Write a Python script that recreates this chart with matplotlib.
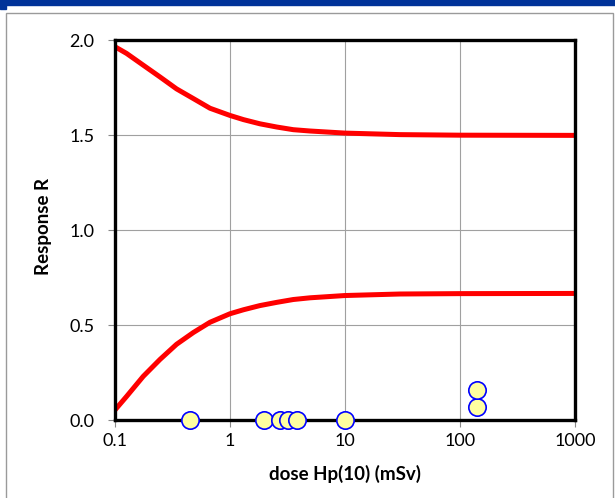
import matplotlib.pyplot as plt
from matplotlib.patches import Rectangle

# upper and lower limits of the response
limit_dose = [0.1, 0.126, 0.176, 0.246, 0.343, 0.48, 0.67, 1.0, 1.31, 1.82, 2.55,
              3.55, 4.97, 10, 30, 100, 1000]
upper_limit = [1.967, 1.932, 1.87, 1.808, 1.745, 1.694, 1.643, 1.605, 1.583, 1.561,
               1.544, 1.53, 1.523, 1.512, 1.504, 1.501, 1.5]
lower_limit = [0.053, 0.124, 0.23, 0.319, 0.399, 0.461, 0.515, 0.56, 0.581, 0.603,
               0.62, 0.635, 0.644, 0.656, 0.664, 0.666, 0.667]

# measured points
point_dose = [0.45, 1.98, 2.72, 3.19, 3.83, 10, 140, 140]
point_resp = [0.0, 0.0, 0.0, 0.0, 0.0, 0.0, 0.068, 0.158]

x_ticks = [0.1, 1, 10, 100, 1000]
x_labels = ['0.1', '1', '10', '100', '1000']
y_ticks = [0.0, 0.5, 1.0, 1.5, 2.0]

plt.rcParams['font.family'] = ['Lato', 'DejaVu Sans']

W, H = 615, 498
fig = plt.figure(figsize=(W / 100, H / 100), dpi=100)

# page decoration: blue bar on top, grey frame
fig.patches.append(Rectangle((0, 1 - 5 / H), 1, 5 / H, transform=fig.transFigure,
                             color='#003399', zorder=0))
fig.patches.append(Rectangle((0, 1 - 9 / H), 6 / W, 9 / H, transform=fig.transFigure,
                             color='#003399', zorder=0))
fig.patches.append(Rectangle((5.5 / W, -0.01), (613 - 5.5) / W, 1 - 13 / H + 0.01,
                             transform=fig.transFigure, fill=False,
                             edgecolor='#9a9a9a', lw=1.0, zorder=0))

ax = fig.add_axes([115 / W, 1 - 420 / H, 460 / W, 379.5 / H])
ax.set_xscale('log')
ax.set_xlim(0.1, 1000)
ax.set_ylim(0, 2.0)

ax.plot(limit_dose, upper_limit, color='red', lw=3.6, solid_capstyle='butt', zorder=3)
ax.plot(limit_dose, lower_limit, color='red', lw=3.6, solid_capstyle='butt', zorder=3)
ax.plot(point_dose, point_resp, 'o', ms=12.5, mfc='#ffffa0', mec='#0000ff', mew=1.2,
        clip_on=False, zorder=5, ls='none')

ax.set_xticks(x_ticks)
ax.set_xticklabels(x_labels)
ax.minorticks_off()
ax.set_yticks(y_ticks)
ax.set_yticklabels(['%.1f' % v for v in y_ticks])
ax.tick_params(axis='both', labelsize=13, color='#888888', length=5, width=0.8,
               direction='out')
ax.tick_params(axis='x', pad=4)
ax.tick_params(axis='y', pad=10)

ax.grid(True, color='#a0a0a0', lw=0.8)
ax.set_axisbelow(True)
for s in ax.spines.values():
    s.set_linewidth(2.4)
    s.set_color('black')
    s.set_zorder(4)

ax.set_xlabel('dose Hp(10) (mSv)', fontsize=13.5, fontweight='bold', labelpad=12)
ax.set_ylabel('Response R', fontsize=13.5, fontweight='bold')
ax.yaxis.set_label_coords(-(115 - 52) / 460, 0.51)

fig.savefig('out.png', dpi=100)
